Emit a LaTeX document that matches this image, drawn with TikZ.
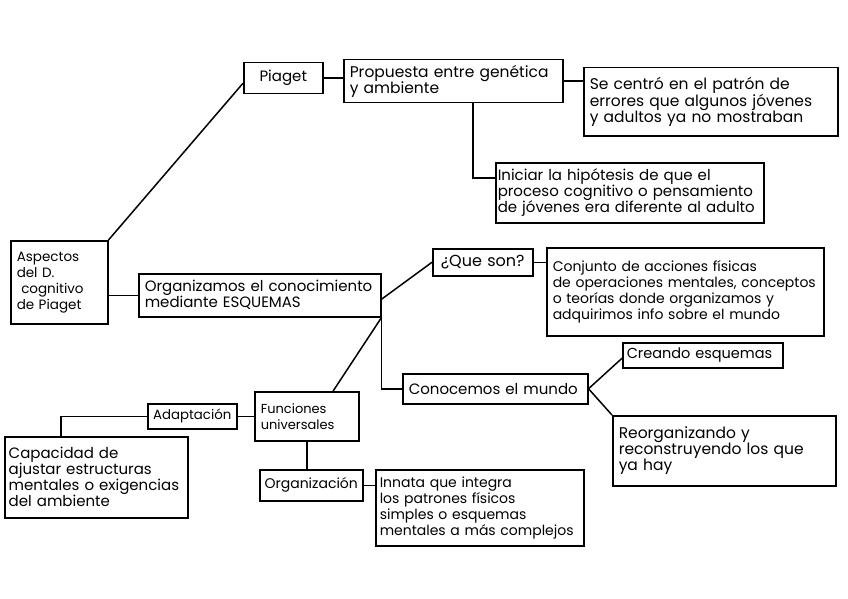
\documentclass[tikz,border=0pt]{standalone}
\usepackage{fontspec}
\setmainfont{Poppins}
\usetikzlibrary{calc}
\tikzset{
  box/.style={draw, line width=1.5pt, inner xsep=6pt, inner ysep=0pt, align=left, anchor=north west,
    font=\fontsize{15pt}{16pt}\selectfont},
  fs/.style={font=\fontsize{#1pt}{16pt}\selectfont},
  link/.style={line width=1.5pt}
}
\begin{document}
\begin{tikzpicture}[x=1pt,y=-1pt]
\useasboundingbox[fill=white] (0,0) rectangle (848,599);
\node[box, fs=13.5, text width=85pt, minimum height=83pt] (asp) at (10,240) {Aspectos\\del D.\\\ cognitivo\\de Piaget};
\node[box, fs=15, text width=67pt, minimum height=31pt, align=center] (piaget) at (243,62) {Piaget};
\node[box, fs=15.5, text width=207pt, minimum height=43pt] (prop) at (343,59) {Propuesta entre genética\\y ambiente};
\node[box, fs=15.5, text width=242pt, minimum height=68pt] (secentro) at (583,67) {Se centró en el patrón de\\errores que algunos jóvenes\\y adultos ya no mostraban};
\node[box, fs=15, text width=264pt, minimum height=60pt, inner xsep=2pt] (iniciar) at (495,162) {Iniciar la hipótesis de que el\\proceso cognitivo o pensamiento\\de jóvenes era diferente al adulto};
\node[box, fs=15, text width=230pt, minimum height=43pt] (org) at (138,273) {Organizamos el conocimiento\\mediante ESQUEMAS};
\node[box, fs=16, text width=88pt, minimum height=27pt, align=center] (queson) at (432,248) {¿Que son?};
\node[box, fs=14, text width=265pt, minimum height=88pt] (conjunto) at (546,247) {Conjunto de acciones físicas\\de operaciones mentales, conceptos\\o teorías donde organizamos y\\adquirimos info sobre el mundo};
\node[box, fs=15, text width=173pt, minimum height=30pt, inner xsep=6pt] (conocemos) at (402,373) {Conocemos el mundo};
\node[box, fs=14.5, text width=152pt, minimum height=25pt, inner xsep=4pt] (creando) at (622,342) {Creando esquemas};
\node[box, fs=15.5, text width=211pt, minimum height=70pt] (reorg) at (612,415) {Reorganizando y\\reconstruyendo los que\\ya hay};
\node[box, fs=13, text width=92pt, minimum height=49pt] (funciones) at (254,391) {Funciones\\universales};
\node[box, fs=13.3, text width=85pt, minimum height=25pt, inner xsep=2pt, align=center] (adapt) at (147,403) {Adaptación};
\node[box, fs=15, text width=175pt, minimum height=81pt, inner xsep=4pt] (capacidad) at (4,436) {Capacidad de\\ajustar estructuras\\mentales o exigencias\\del ambiente};
\node[box, fs=14, text width=99pt, minimum height=31pt, inner xsep=2pt, align=center] (organiz) at (259,469) {Organización};
\node[box, fs=14, text width=200pt, minimum height=76pt, inner xsep=4pt] (innata) at (375,469) {Innata que integra\\los patrones físicos\\simples o esquemas\\mentales a más complejos};

\draw[link] (asp.north east) -- ([yshift=-5pt]piaget.west);
\draw[link] (piaget.east) -- (piaget.east -| prop.west);
\draw[link] (prop.east) -- (prop.east -| secentro.west);
\draw[link] ([xshift=19.5pt]prop.south) |- ([yshift=15pt]iniciar.west);
\draw[link] (asp.east |- org.west) -- (org.west);
\draw[link] ([yshift=-4pt]org.east) -- (queson.west);
\draw[link] (queson.east) -- (queson.east -| conjunto.west);
\draw[link] (org.south east) |- (conocemos.west);
\draw[link] (org.south east) -- ($(funciones.north)!0.5!(funciones.north east)$);
\draw[link] (adapt.east) -- (funciones.west);
\draw[link] (adapt.west) -| ([xshift=-35.5pt]capacidad.north);
\draw[link] (funciones.south) -- (funciones.south |- organiz.north);
\draw[link] (organiz.east) -- (organiz.east -| innata.west);
\draw[link] (conocemos.east) -- ([yshift=-3pt]creando.west);
\draw[link] (conocemos.east) -- (reorg.north west);
\end{tikzpicture}
\end{document}
